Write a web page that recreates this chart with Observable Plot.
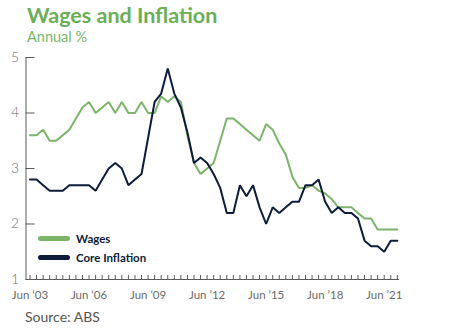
<!DOCTYPE html>
<html><head><meta charset="utf-8">
<script src="https://cdn.jsdelivr.net/npm/d3@7"></script>
<script src="https://cdn.jsdelivr.net/npm/@observablehq/plot@0.6"></script>
<style>
body{margin:0;background:#fff;font-family:Lato,"Open Sans",sans-serif;}
#wrap{position:relative;width:458px;height:333px;overflow:hidden;background:#fff;}
#title{position:absolute;left:27px;top:2px;font-size:21.5px;font-weight:700;color:#6aae57;white-space:nowrap;}
#subtitle{position:absolute;left:27px;top:28px;font-size:14.5px;color:#7ab56a;white-space:nowrap;}
#chart{position:absolute;left:0;top:48px;}
#legend{position:absolute;left:38px;top:229px;font-size:11.5px;font-weight:700;color:#0c1c3a;}
.row{display:flex;align-items:center;height:19px;}
.sw{width:32px;height:5px;border-radius:3px;margin-right:6px;}
#source{position:absolute;left:25px;top:308px;font-size:14px;color:#555;white-space:nowrap;}
</style></head><body>
<div id="wrap">
  <div id="title">Wages and Inflation</div>
  <div id="subtitle">Annual %</div>
  <div id="chart"></div>
  <div id="legend">
    <div class="row"><div class="sw" id="sw1"></div><span id="lab1"></span></div>
    <div class="row"><div class="sw" id="sw2"></div><span id="lab2"></span></div>
  </div>
  <div id="source">Source: ABS</div>
</div>
<script>
// Series names and colours
const seriesNames = ["Wages", "Core Inflation"];
const seriesColors = ["#7cb46a", "#0c1c3a"];

// Observations (one every four months from Jun '03), annual %
const wages = [3.6,3.6,3.7,3.5,3.5,3.6,3.7,3.9,4.1,4.2,4.0,4.1,4.2,4.0,4.2,4.0,4.0,4.2,4.0,4.0,
  4.3,4.2,4.3,4.2,3.6,3.1,2.9,3.0,3.1,3.5,3.9,3.9,3.8,3.7,3.6,3.5,3.8,3.7,3.45,3.25,
  2.85,2.65,2.65,2.7,2.6,2.55,2.45,2.3,2.3,2.3,2.2,2.1,2.1,1.9,1.9,1.9,1.9];
const core = [2.8,2.8,2.7,2.6,2.6,2.6,2.7,2.7,2.7,2.7,2.6,2.8,3.0,3.1,3.0,2.7,2.8,2.9,3.55,4.2,
  4.35,4.8,4.35,4.1,3.65,3.1,3.2,3.1,2.9,2.65,2.2,2.2,2.7,2.5,2.7,2.3,2.0,2.3,2.2,2.3,
  2.4,2.4,2.7,2.7,2.8,2.4,2.2,2.3,2.2,2.2,2.1,1.7,1.6,1.6,1.5,1.7,1.7];

// Axis ticks
const xTickIndex = [0, 9, 18, 27, 36, 45, 54];
const xTickLabels = ["Jun \u201803", "Jun \u201806", "Jun \u201809", "Jun \u201912", "Jun \u201915", "Jun \u201918", "Jun \u201921"];
const yTicks = [1, 2, 3, 4, 5];

const idx = wages.map((_, i) => i);
const data = [
  ...wages.map((v, i) => ({i, v, s: seriesNames[0]})),
  ...core.map((v, i) => ({i, v, s: seriesNames[1]}))
];
const xDomain = [-0.61, 56.33];
const labelMap = new Map(xTickIndex.map((t, k) => [t, xTickLabels[k]]));

const chart = Plot.plot({
  width: 458, height: 262,
  marginTop: 9, marginBottom: 31, marginLeft: 25.5, marginRight: 59,
  style: {fontFamily: "Lato, 'Open Sans', sans-serif", background: "transparent"},
  x: {domain: xDomain, axis: null},
  y: {domain: [1, 5], axis: null},
  color: {domain: seriesNames, range: seriesColors},
  marks: [
    Plot.axisY(yTicks, {tickSize: -9, text: null, label: null, stroke: "#5a5a5a"}),
    Plot.axisY(yTicks, {tickSize: 0, tickPadding: 7, label: null, tickFormat: d => String(d), fill: "#707070", fontSize: 14, fontWeight: 300}),
    Plot.axisX(idx, {tickSize: -4, text: null, label: null, stroke: "#5a5a5a"}),
    Plot.axisX(xTickIndex, {tickSize: 0, tickPadding: 11, label: null, tickFormat: d => labelMap.get(d), fill: "#6a6a6a", fontSize: 11.5}),
    Plot.ruleX([xDomain[0]], {stroke: "#5a5a5a"}),
    Plot.ruleY([1], {stroke: "#5a5a5a"}),
    Plot.line(data, {x: "i", y: "v", z: "s", stroke: "s", strokeWidth: 2, strokeLinejoin: "miter"})
  ]
});
document.getElementById("chart").appendChild(chart);
document.getElementById("sw1").style.background = seriesColors[0];
document.getElementById("sw2").style.background = seriesColors[1];
document.getElementById("lab1").textContent = seriesNames[0];
document.getElementById("lab2").textContent = seriesNames[1];
</script>
</body></html>
